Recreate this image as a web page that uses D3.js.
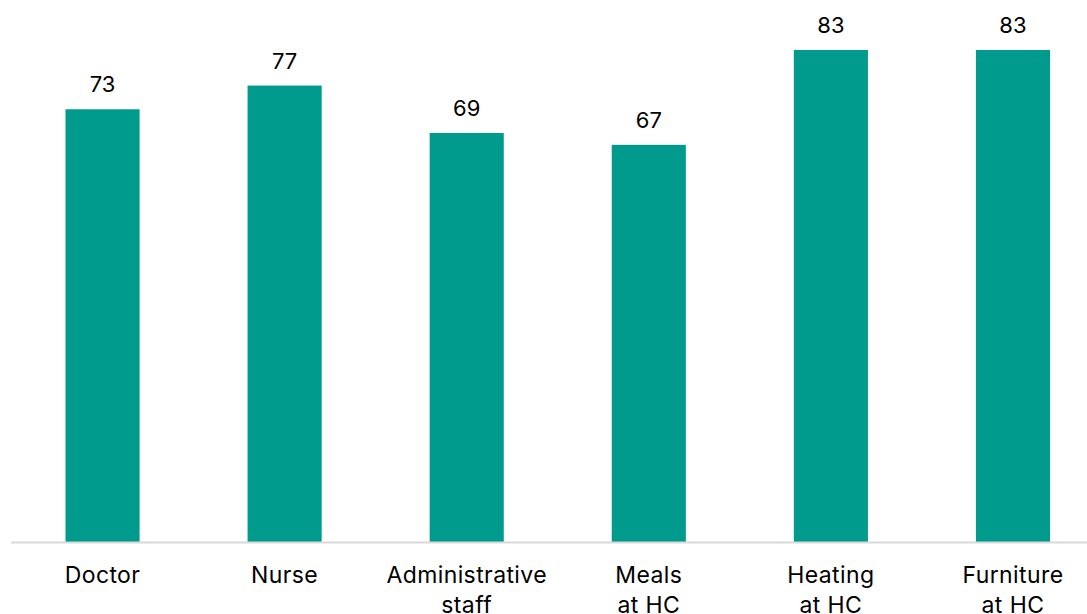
<!DOCTYPE html>
<html>
<head>
<meta charset="utf-8">
<script src="https://cdn.jsdelivr.net/npm/d3@7"></script>
<style>
  html, body { margin: 0; padding: 0; background: #fff; }
  svg { display: block; }
  text { font-family: Inter, "Open Sans", sans-serif; fill: #000; }
</style>
</head>
<body>
<svg id="chart" width="1087" height="614"></svg>
<script>
// Share of facilities reporting each item (%)
const categories = ["Doctor", "Nurse", "Administrative\nstaff", "Meals\nat HC", "Heating\nat HC", "Furniture\nat HC"];
const values = [73, 77, 69, 67, 83, 83];

const width = 1087, height = 614;
const baseline = 542;
const svg = d3.select("#chart");

const x = d3.scaleBand()
  .domain(categories)
  .range([11.5, 1104])
  .paddingInner(0.593)
  .paddingOuter(0.2965);

const y = d3.scaleLinear()
  .domain([0, 90])
  .range([baseline, baseline - 90 * (492 / 83)]);

// bars
svg.append("g")
  .selectAll("rect")
  .data(values)
  .join("rect")
  .attr("x", (d, i) => x(categories[i]))
  .attr("y", d => y(d))
  .attr("width", x.bandwidth())
  .attr("height", d => y(0) - y(d))
  .attr("fill", "#009B8D");

// value labels
svg.append("g")
  .selectAll("text")
  .data(values)
  .join("text")
  .attr("x", (d, i) => x(categories[i]) + x.bandwidth() / 2)
  .attr("y", d => y(d) - 17)
  .attr("text-anchor", "middle")
  .attr("font-size", 22)
  .text(d => d);

// category axis
const axis = svg.append("g")
  .attr("transform", `translate(0,${baseline})`)
  .call(d3.axisBottom(x).tickSize(0).tickFormat(""));
axis.select(".domain")
  .attr("d", `M11,0.5H${width}`)
  .attr("stroke", "#d9d9d9")
  .attr("stroke-width", 2);

const labels = svg.append("g")
  .selectAll("text")
  .data(categories)
  .join("text")
  .attr("x", d => x(d) + x.bandwidth() / 2)
  .attr("y", 583)
  .attr("text-anchor", "middle")
  .attr("font-size", 23)
  .attr("letter-spacing", 0.4);

labels.selectAll("tspan")
  .data(d => d.split("\n"))
  .join("tspan")
  .attr("x", function () { return d3.select(this.parentNode).attr("x"); })
  .attr("dy", (d, i) => i === 0 ? 0 : 29.5)
  .text(d => d);
</script>
</body>
</html>
